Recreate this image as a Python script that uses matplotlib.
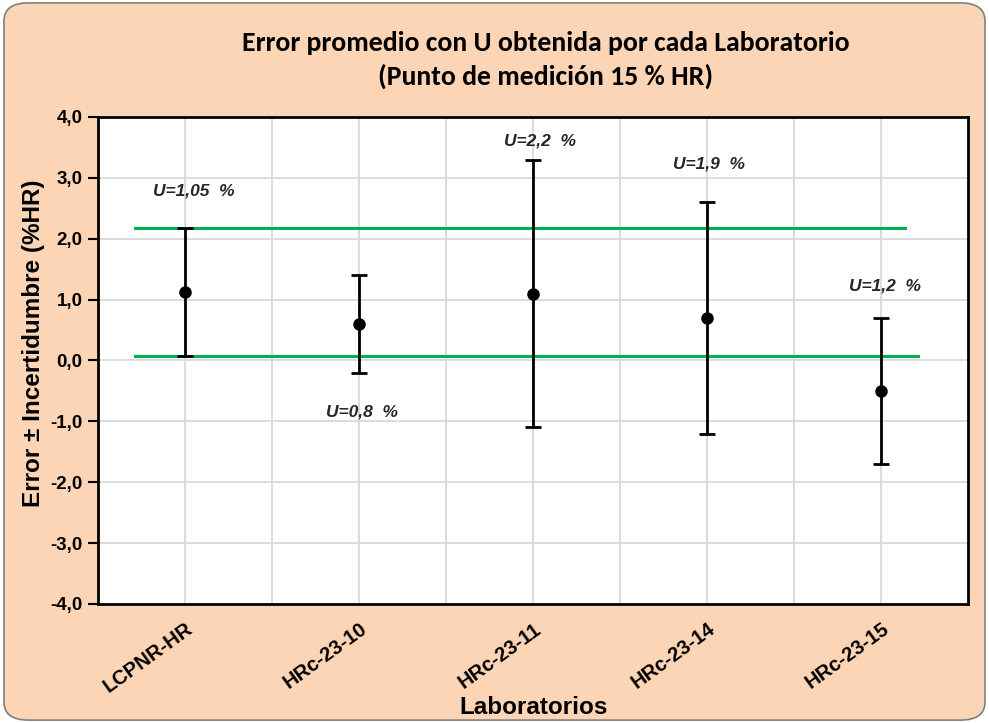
import numpy as np
import matplotlib.pyplot as plt
from matplotlib.patches import FancyBboxPatch
from matplotlib.ticker import FuncFormatter

plt.rcParams['font.family'] = ['Liberation Sans', 'DejaVu Sans']

# data
labs = ['LCPNR-HR', 'HRc-23-10', 'HRc-23-11', 'HRc-23-14', 'HRc-23-15']
error_mean = [1.12, 0.60, 1.10, 0.70, -0.50]
u_value = [1.05, 0.80, 2.20, 1.90, 1.20]
u_text = ['U=1,05  %', 'U=0,8  %', 'U=2,2  %', 'U=1,9  %', 'U=1,2  %']
u_text_y = [2.79, -0.84, 3.60, 3.22, 1.23]
u_text_x = [1.05, 2.02, 3.04, 4.01, 5.02]

# reference limits (LCPNR-HR value ± U)
ref_upper = 2.17
ref_lower = 0.07
ref_upper_x = [0.71, 5.14]
ref_lower_x = [0.71, 5.21]

bg = '#FBD5B5'

fig = plt.figure(figsize=(9.89, 7.23), dpi=100)
fig.patch.set_facecolor('white')
frame = FancyBboxPatch((0.004, 0.004), 0.992, 0.992,
                       boxstyle='round,pad=0,rounding_size=0.025',
                       transform=fig.transFigure, facecolor=bg,
                       edgecolor='#7f7f7f', lw=1.2, zorder=-1)
fig.patches.append(frame)

ax = fig.add_axes([0.0991, 0.1646, 0.8797, 0.6736])
ax.set_facecolor('white')

x = np.arange(1, len(labs) + 1)

# grid
for gx in np.arange(1, 5.01, 0.5):
    ax.axvline(gx, color='#D9D9D9', lw=1.3, zorder=0)
for gy in np.arange(-3, 4, 1):
    ax.axhline(gy, color='#D9D9D9', lw=1.3, zorder=0)

ax.plot(ref_upper_x, [ref_upper, ref_upper], color='#00B050', lw=2.2, zorder=2)
ax.plot(ref_lower_x, [ref_lower, ref_lower], color='#00B050', lw=2.2, zorder=2)

ax.errorbar(x, error_mean, yerr=u_value, fmt='o', color='black',
            ms=8, elinewidth=2, capsize=6, capthick=2, zorder=3)

for tx, ty, t in zip(u_text_x, u_text_y, u_text):
    ax.text(tx, ty, t, ha='center', va='center', fontsize=12.5,
            fontweight='bold', style='italic', color='#262626')

ax.set_xlim(0.5, 5.5)
ax.set_ylim(-4, 4)
ax.set_yticks(np.arange(-4, 4.01, 1))
ax.yaxis.set_major_formatter(FuncFormatter(lambda v, p: f'{v:.1f}'.replace('.', ',')))
ax.set_xticks(x)
ax.set_xticklabels(labs, rotation=36, ha='right', rotation_mode='anchor',
                   fontsize=14.5, fontweight='bold')
plt.setp(ax.get_yticklabels(), fontsize=13.5, fontweight='bold')

ax.tick_params(axis='y', direction='out', length=7, width=1.5, pad=4)
ax.tick_params(axis='x', length=0, pad=11)
for s in ax.spines.values():
    s.set_linewidth(2)
    s.set_color('black')

ax.set_ylabel('Error ± Incertidumbre (%HR)', fontsize=17.5, fontweight='bold')
ax.yaxis.set_label_coords(-0.061, 0.536)
fig.text(0.539, 0.022, 'Laboratorios', ha='center', va='center', fontsize=17.5,
         fontweight='bold')

fig.text(0.552, 0.917, 'Error promedio con U obtenida por cada Laboratorio\n(Punto de medición 15 % HR)',
         ha='center', va='center', fontsize=20, fontweight='bold',
         family=['Carlito', 'Lato', 'DejaVu Sans'], linespacing=1.45)

fig.savefig('out.png', dpi=100, facecolor=fig.get_facecolor())
